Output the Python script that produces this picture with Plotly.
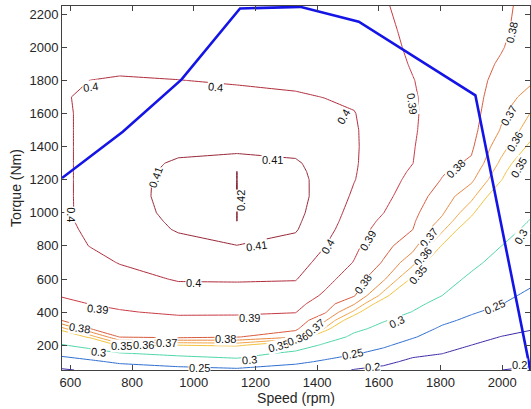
import plotly.graph_objects as go

# ---- data ----
speed_rpm = [573, 667, 760, 950, 1140, 1330, 1425, 1520, 1615, 1710, 1805, 1900, 1995, 2090]
torque_nm = [50, 100, 150, 200, 250, 300, 350, 400, 450, 500, 600, 700, 800, 900, 950,
             1000, 1100, 1200, 1250, 1300, 1400, 1500, 1600, 1700, 1800, 1900, 2000, 2100, 2250]

# efficiency map, one row per torque value, one column per speed value
efficiency = [
    [0.195, 0.207, 0.224, 0.240, 0.2414, 0.2299, 0.2207, 0.1977, 0.1873, 0.1668, 0.1715, 0.1583, 0.1995, 0.210],
    [0.2278, 0.242, 0.2577, 0.265, 0.2845, 0.2586, 0.2443, 0.2267, 0.2118, 0.189, 0.186, 0.1722, 0.178, 0.185],
    [0.2625, 0.2783, 0.2962, 0.3143, 0.3211, 0.2874, 0.2679, 0.2536, 0.2363, 0.2111, 0.2006, 0.1861, 0.1851, 0.1888],
    [0.2972, 0.3167, 0.3538, 0.3501, 0.3533, 0.3304, 0.2915, 0.2714, 0.2567, 0.2332, 0.2151, 0.1999, 0.1922, 0.1927],
    [0.3284, 0.3553, 0.3806, 0.3833, 0.3807, 0.3712, 0.3286, 0.2893, 0.272, 0.2536, 0.2297, 0.2139, 0.1993, 0.1965],
    [0.3568, 0.3805, 0.3835, 0.3842, 0.3843, 0.3827, 0.359, 0.3109, 0.2872, 0.2686, 0.2442, 0.2278, 0.2122, 0.201],
    [0.3804, 0.3838, 0.3865, 0.3881, 0.388, 0.3866, 0.3718, 0.338, 0.303, 0.2835, 0.2583, 0.2417, 0.2257, 0.2117],
    [0.3842, 0.3871, 0.3894, 0.3912, 0.3911, 0.3903, 0.3813, 0.3576, 0.3215, 0.2985, 0.2722, 0.2539, 0.2392, 0.2223],
    [0.388, 0.3902, 0.3914, 0.3937, 0.3935, 0.3929, 0.3849, 0.3709, 0.34, 0.311, 0.2861, 0.2636, 0.2514, 0.233],
    [0.3905, 0.3916, 0.3932, 0.3961, 0.3961, 0.3956, 0.3886, 0.3809, 0.3561, 0.3232, 0.3001, 0.2733, 0.2585, 0.2436],
    [0.394, 0.3945, 0.3968, 0.4007, 0.4009, 0.4005, 0.393, 0.3852, 0.3717, 0.3476, 0.3164, 0.2926, 0.2725, 0.2581],
    [0.396, 0.3974, 0.4004, 0.404, 0.4053, 0.4039, 0.3968, 0.3896, 0.3792, 0.3633, 0.3328, 0.3092, 0.2866, 0.2698],
    [0.397, 0.4003, 0.4038, 0.4074, 0.4097, 0.4073, 0.4002, 0.392, 0.3831, 0.3738, 0.3492, 0.324, 0.3006, 0.2814],
    [0.398, 0.4015, 0.405, 0.4107, 0.4175, 0.4107, 0.4032, 0.3942, 0.3866, 0.3801, 0.3622, 0.3389, 0.3135, 0.293],
    [0.3985, 0.402, 0.4054, 0.4116, 0.42002, 0.4115, 0.4045, 0.3953, 0.3883, 0.3813, 0.3678, 0.3463, 0.3199, 0.2988],
    [0.3985, 0.4022, 0.4058, 0.4125, 0.42003, 0.4122, 0.4055, 0.3964, 0.3901, 0.3825, 0.3713, 0.3526, 0.3263, 0.3043],
    [0.3985, 0.4023, 0.406, 0.4135, 0.42004, 0.4128, 0.4068, 0.3986, 0.3925, 0.385, 0.3754, 0.363, 0.3391, 0.3152],
    [0.3985, 0.4023, 0.406, 0.4133, 0.42003, 0.4126, 0.407, 0.4003, 0.3942, 0.3875, 0.3796, 0.372, 0.3511, 0.3261],
    [0.3985, 0.4023, 0.406, 0.4123, 0.42002, 0.4118, 0.407, 0.4006, 0.3948, 0.3888, 0.381, 0.3753, 0.3546, 0.3315],
    [0.3985, 0.4023, 0.406, 0.4112, 0.4135, 0.411, 0.4065, 0.4008, 0.3953, 0.3901, 0.3825, 0.3787, 0.3582, 0.337],
    [0.3985, 0.4023, 0.406, 0.4075, 0.4075, 0.4075, 0.4055, 0.4009, 0.3957, 0.3905, 0.3845, 0.3815, 0.3641, 0.3478],
    [0.3985, 0.4023, 0.406, 0.4055, 0.4055, 0.4055, 0.4042, 0.4008, 0.3957, 0.3908, 0.386, 0.383, 0.3695, 0.355],
    [0.3985, 0.4023, 0.4062, 0.4037, 0.4035, 0.4035, 0.4025, 0.4003, 0.3953, 0.3908, 0.387, 0.3838, 0.372, 0.3599],
    [0.3988, 0.4025, 0.4063, 0.4018, 0.4016, 0.4012, 0.3998, 0.3987, 0.3945, 0.3906, 0.3873, 0.3842, 0.3743, 0.3669],
    [0.3982, 0.4001, 0.4015, 0.4001, 0.3994, 0.3978, 0.397, 0.397, 0.3935, 0.3902, 0.3873, 0.3843, 0.3766, 0.3715],
    [0.396, 0.396, 0.396, 0.398, 0.3975, 0.396, 0.3955, 0.3957, 0.3925, 0.3895, 0.387, 0.3843, 0.3789, 0.373],
    [0.395, 0.3948, 0.3945, 0.3965, 0.396, 0.395, 0.3945, 0.3948, 0.3918, 0.389, 0.3866, 0.3842, 0.3808, 0.3745],
    [0.394, 0.394, 0.394, 0.3955, 0.395, 0.3945, 0.394, 0.3942, 0.3912, 0.3887, 0.3862, 0.384, 0.382, 0.3755],
    [0.393, 0.393, 0.393, 0.3945, 0.394, 0.394, 0.3935, 0.3935, 0.3905, 0.3882, 0.3857, 0.3838, 0.3828, 0.3763],
]

levels = [0.20, 0.25, 0.30, 0.35, 0.36, 0.37, 0.38, 0.39, 0.40, 0.41, 0.42]
level_colors = ["#3b2aa6", "#2f6fd0", "#4fd6a8", "#f2c23a", "#f2a545", "#e8873f",
                "#d95a3c", "#c83a44", "#b02c3c", "#982838", "#7e1a2c"]

# full-load torque curve
curve_speed = [573, 770, 960, 1150, 1345, 1535, 1913, 2091]
curve_torque = [1210, 1490, 1805, 2235, 2245, 2155, 1710, 50]

# contour labels as placed in the reference (text, speed, torque, angle)
label_text = ["0.4", "0.4", "0.4", "0.4", "0.4", "0.4",
              "0.41", "0.41", "0.41", "0.42",
              "0.39", "0.38", "0.39", "0.38", "0.38",
              "0.37", "0.36", "0.35", "0.37", "0.36", "0.35",
              "0.3", "0.3", "0.25", "0.25", "0.2", "0.2",
              "0.35", "0.36", "0.37",
              "0.38", "0.39", "0.3", "0.35", "0.36", "0.37",
              "0.38", "0.39", "0.3", "0.25"]
label_speed = [665, 1070, 1485, 600, 999, 1433,
               1255, 875, 1203, 1151,
               1709, 2030, 1563, 1550, 1848,
               2020, 2039, 2052, 1760, 1741, 1725,
               2059, 1657, 1974, 1514, 1579, 2055,
               1275, 1335, 1392,
               629, 688, 691, 765, 838, 912,
               1103, 1180, 1180, 1018]
label_torque = [1763, 1760, 1580, 990, 578, 796,
                1322, 1213, 802, 1073,
                1660, 2089, 832, 567, 1267,
                1587, 1430, 1273, 850, 735, 627,
                856, 343, 433, 144, 70, 80,
                196, 238, 305,
                306, 416, 161, 196, 203, 214,
                240, 362, 108, 62]
label_angle = [-8, 5, -60, 90, 0, -60,
               0, -70, -8, -90,
               82, -78, -60, -55, -45,
               -60, -60, -60, -50, -50, -50,
               -60, -25, -25, -12, -5, 0,
               -15, -20, -40,
               8, 5, 5, 0, 0, 0,
               0, 0, -5, 0]

x_ticks = [600, 800, 1000, 1200, 1400, 1600, 1800, 2000]
y_ticks = [200, 400, 600, 800, 1000, 1200, 1400, 1600, 1800, 2000, 2200]

fig = go.Figure()
for lv, col in zip(levels, level_colors):
    fig.add_trace(go.Contour(
        x=speed_rpm, y=torque_nm, z=efficiency,
        autocontour=False,
        contours=dict(start=lv, end=lv, size=1, coloring="none", showlabels=False),
        line=dict(color=col, width=1, smoothing=0),
        showscale=False, hoverinfo="skip",
    ))

fig.add_trace(go.Scatter(x=curve_speed, y=curve_torque, mode="lines",
                         line=dict(color="#1414e6", width=2.6), hoverinfo="skip",
                         showlegend=False))

label_font = dict(family="Liberation Sans, Arial, sans-serif", size=11, color="#111111")
for t, sx, ty, ang in zip(label_text, label_speed, label_torque, label_angle):
    fig.add_annotation(x=sx, y=ty, xref="x", yref="y", text=t, showarrow=False,
                       textangle=ang, font=label_font, bgcolor="white", borderpad=0)

axis_font = dict(family="Liberation Sans, Arial, sans-serif", size=13, color="#262626")
title_font = dict(family="Liberation Sans, Arial, sans-serif", size=14, color="#262626")
fig.update_layout(
    width=531, height=409,
    margin=dict(l=62, r=1, t=6, b=39),
    paper_bgcolor="white", plot_bgcolor="white",
    showlegend=False,
    font=axis_font,
    xaxis=dict(range=[573, 2090], tickvals=x_ticks, ticks="inside", ticklen=5,
               showline=True, linecolor="#404040", linewidth=1, mirror="ticks",
               showgrid=False, zeroline=False, tickfont=axis_font,
               title=dict(text="Speed (rpm)", font=title_font, standoff=4)),
    yaxis=dict(range=[50, 2250], tickvals=y_ticks, ticks="inside", ticklen=5,
               showline=True, linecolor="#404040", linewidth=1, mirror="ticks",
               showgrid=False, zeroline=False, tickfont=axis_font,
               title=dict(text="Torque (Nm)", font=title_font, standoff=4)),
)

fig.write_html("out.html", config={"displayModeBar": False, "staticPlot": True},
               post_script="document.body.style.margin='0px';")
